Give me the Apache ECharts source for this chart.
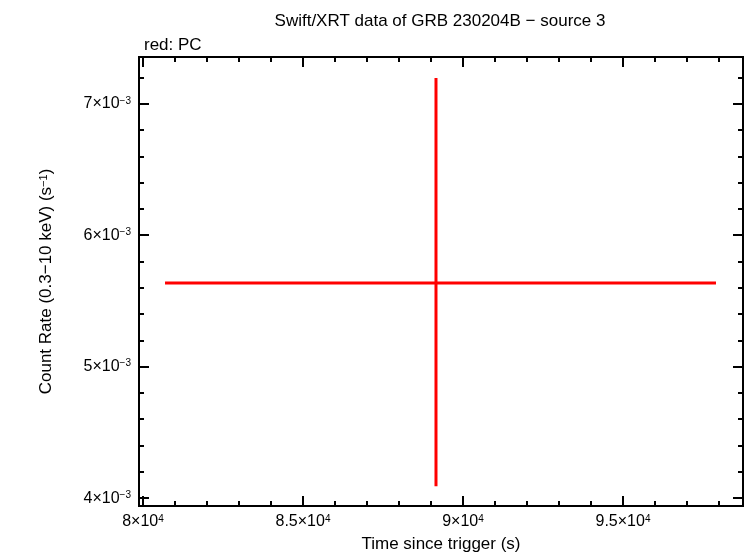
<!DOCTYPE html><html><head><meta charset="utf-8"><script src="https://cdn.jsdelivr.net/npm/echarts@6/dist/echarts.min.js"></script></head><body style="margin:0"><div id="c" style="width:746px;height:558px"></div><script>
const times=[89156];
const timeLo=[80688];
const timeHi=[97906];
const rates=[5.636e-3];
const rateLo=[4.09e-3];
const rateHi=[7.197e-3];
const xMajor=[80000,85000,90000,95000];
const xMinor=[];for(let v=80000;v<=98000;v+=1000)xMinor.push(v);
const yMajor=[4e-3,5e-3,6e-3,7e-3];
const yMinor=[];for(let k=20;k<=36;k++)yMinor.push(k*2e-4);
const data=times.map((t,i)=>[t,rates[i],timeLo[i],timeHi[i],rateLo[i],rateHi[i]]);
const XMIN=79875,XMAX=98750,YMIN=3.94e-3,YMAX=7.356e-3;
const sup={fontSize:10,verticalAlign:'top',padding:[0,0,6,0],color:'#000',fontFamily:'Liberation Sans'};
function xl(v){const m=v/1e4;return m+'×10{s|4}';}
function yl(v){return Math.round(v*1e3)+'×10{s|−3}';}
const line={lineStyle:{color:'#000',width:2}};
function ax(type,pos,major,fmt,len,show,mn,mx){
 return {type:'value',position:pos,min:mn,max:mx,axisLine:{show:true,onZero:false,lineStyle:{color:'#000',width:2}},splitLine:{show:false},
 axisTick:{show:true,inside:true,length:len,customValues:major,lineStyle:{color:'#000',width:2}},
 axisLabel:{show:show,customValues:major,formatter:fmt,color:'#000',fontSize:16,fontFamily:'Liberation Sans',rich:{s:sup},margin:8}};
}
const xA=[ax('v','bottom',xMajor,xl,10,true,XMIN,XMAX),ax('v','bottom',xMinor,'',5,false,XMIN,XMAX),ax('v','top',xMajor,'',10,false,XMIN,XMAX),ax('v','top',xMinor,'',5,false,XMIN,XMAX)];
xA[0].name='Time since trigger (s)';xA[0].nameLocation='middle';xA[0].nameGap=30;xA[0].nameTextStyle={fontSize:17,color:'#000',fontFamily:'Liberation Sans'};
const yA=[ax('v','left',yMajor,yl,10,true,YMIN,YMAX),ax('v','left',yMinor,'',5,false,YMIN,YMAX),ax('v','right',yMajor,'',10,false,YMIN,YMAX),ax('v','right',yMinor,'',5,false,YMIN,YMAX)];
yA[0].name='Count Rate (0.3−10 keV) (s{s|−1})';yA[0].nameLocation='middle';yA[0].nameGap=84;yA[0].nameTextStyle={fontSize:17,color:'#000',fontFamily:'Liberation Sans',rich:{s:{fontSize:11,verticalAlign:'top',padding:[0,0,6,0],fontFamily:'Liberation Sans'}}};
const ch=echarts.init(document.getElementById('c'));
ch.setOption({animation:false,
title:[{text:'Swift/XRT data of GRB 230204B − source 3',left:435,top:8,textAlign:'center',textStyle:{fontSize:17,fontWeight:'normal',color:'#000',fontFamily:'Liberation Sans'}},
{text:'red: PC',left:139,top:32,textStyle:{fontSize:17,fontWeight:'normal',color:'#000',fontFamily:'Liberation Sans'}}],
grid:{left:139,right:3,top:57,bottom:51},
xAxis:xA,yAxis:yA,
series:[{type:'custom',xAxisIndex:0,yAxisIndex:0,data:data,encode:{x:0,y:1},
renderItem:(p,api)=>{const c=api.coord([api.value(0),api.value(1)]);const a=api.coord([api.value(2),api.value(1)]);const b=api.coord([api.value(3),api.value(1)]);
const u=api.coord([api.value(0),api.value(5)]);const d=api.coord([api.value(0),api.value(4)]);
const st={stroke:'#ff0000',lineWidth:3};
return {type:'group',children:[{type:'line',shape:{x1:a[0],y1:a[1],x2:b[0],y2:b[1]},style:st},{type:'line',shape:{x1:u[0],y1:u[1],x2:d[0],y2:d[1]},style:st}]};}}]});
</script></body></html>
